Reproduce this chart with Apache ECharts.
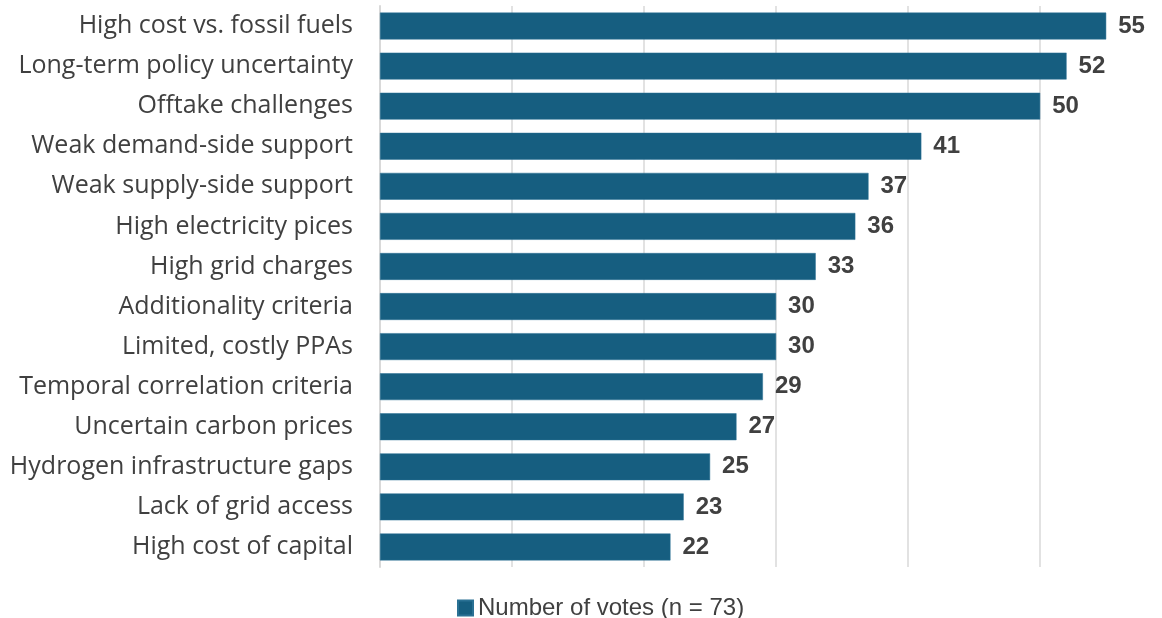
<!DOCTYPE html>
<html><head><meta charset="utf-8">
<script src="https://cdn.jsdelivr.net/npm/echarts@6/dist/echarts.min.js"></script>
<style>html,body{margin:0;padding:0;background:#fff}#c{width:1162px;height:618px}</style>
</head><body><div id="c"></div>
<script>
const categories = [
  "High cost vs. fossil fuels",
  "Long-term policy uncertainty",
  "Offtake challenges",
  "Weak demand-side support",
  "Weak supply-side support",
  "High electricity pices",
  "High grid charges",
  "Additionality criteria",
  "Limited, costly PPAs",
  "Temporal correlation criteria",
  "Uncertain carbon prices",
  "Hydrogen infrastructure gaps",
  "Lack of grid access",
  "High cost of capital"
];
const votes = [55, 52, 50, 41, 37, 36, 33, 30, 30, 29, 27, 25, 23, 22];
const seriesName = "Number of votes (n = 73)";

const chart = echarts.init(document.getElementById('c'));
chart.setOption({
  animation: false,
  grid: { left: 380, top: 6, width: 779, bottom: 51, containLabel: false },
  xAxis: {
    type: 'value', min: 0, max: 59, interval: 10,
    axisLabel: { show: false }, axisTick: { show: false }, axisLine: { show: false },
    splitLine: { showMinLine: false, showMaxLine: false, lineStyle: { color: '#d9d9d9', width: 1.5 } }
  },
  yAxis: {
    type: 'category', data: categories, inverse: true,
    axisLine: { show: true, lineStyle: { color: '#d9d9d9', width: 2 } },
    axisTick: { show: false },
    axisLabel: { fontFamily: 'Open Sans', fontSize: 25, color: '#404040', margin: 27 }
  },
  legend: {
    left: 452, top: 591, padding: 5, itemWidth: 15, itemHeight: 15, itemGap: 6,
    icon: 'rect',
    textStyle: { fontFamily: 'Liberation Sans', fontSize: 24, color: '#404040', lineHeight: 24 }
  },
  series: [{
    name: seriesName, type: 'bar', data: votes, barCategoryGap: '33%',
    itemStyle: { color: '#165e80', borderColor: '#2a7194', borderWidth: 0.5 },
    label: { show: true, position: 'right', distance: 12, fontFamily: 'Liberation Sans', fontWeight: 'bold', fontSize: 24, color: '#404040' }
  }]
});
</script></body></html>
